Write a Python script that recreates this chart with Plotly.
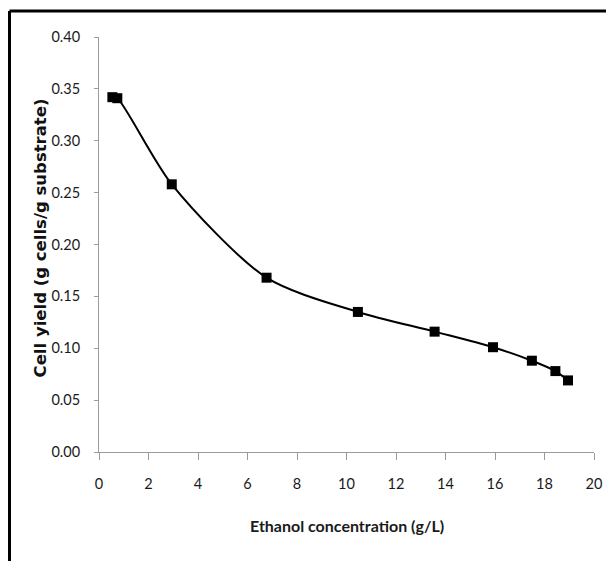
import plotly.graph_objects as go

ethanol = [0.54, 0.74, 2.94, 6.77, 10.46, 13.56, 15.92, 17.49, 18.44, 18.95]
cell_yield = [0.342, 0.341, 0.258, 0.168, 0.135, 0.116, 0.101, 0.088, 0.078, 0.069]
x_ticks = [0, 2, 4, 6, 8, 10, 12, 14, 16, 18, 20]
y_ticks = [0.00, 0.05, 0.10, 0.15, 0.20, 0.25, 0.30, 0.35, 0.40]

tick_font = dict(family="Lato, Roboto, sans-serif", size=14.5, color="#1a1a1a")

fig = go.Figure()
fig.add_trace(go.Scatter(
    x=ethanol, y=cell_yield, mode="lines+markers",
    line=dict(color="black", width=2, shape="spline", smoothing=0.8),
    marker=dict(symbol="square", size=10, color="black"),
    showlegend=False,
))

fig.update_layout(
    width=606, height=553,
    margin=dict(l=91, r=20, t=29, b=109),
    paper_bgcolor="white", plot_bgcolor="white",
    xaxis=dict(range=[0, 20], tickvals=x_ticks, ticktext=[str(v) for v in x_ticks],
               showgrid=False, zeroline=False, showline=True, linecolor="#9a9a9a", linewidth=1,
               ticks="outside", ticklen=7, tickcolor="#9a9a9a", tickfont=tick_font,
               ticklabelstandoff=12),
    yaxis=dict(range=[0, 0.40], tickvals=y_ticks, ticktext=[f"{v:.2f}" for v in y_ticks],
               showgrid=False, zeroline=False, showline=True, linecolor="#9a9a9a", linewidth=1,
               ticks="outside", ticklen=4, tickcolor="#9a9a9a", tickfont=tick_font,
               ticklabelstandoff=11),
    shapes=[
        dict(type="line", xref="paper", yref="paper", x0=-0.1808, x1=1.2, y0=1.0627, y1=1.0627,
             line=dict(color="black", width=3)),
        dict(type="line", xref="paper", yref="paper", x0=-0.1808, x1=-0.1808, y0=1.0627, y1=-0.35,
             line=dict(color="black", width=3)),
    ],
    annotations=[
        dict(text="<b>Ethanol concentration (g/L)</b>", xref="paper", yref="paper", x=0.5, y=-0.178,
             xanchor="center", yanchor="middle", showarrow=False,
             font=dict(family="Lato, Roboto, sans-serif", size=16, color="#1a1a1a")),
        dict(text="<b>Cell yield (g cells/g substrate)</b>", xref="paper", yref="paper", x=-0.118, y=0.516,
             xanchor="center", yanchor="middle", showarrow=False, textangle=-90,
             font=dict(family="DejaVu Sans", size=16.5, color="#111111")),
    ],
)

fig.write_html("out.html")
